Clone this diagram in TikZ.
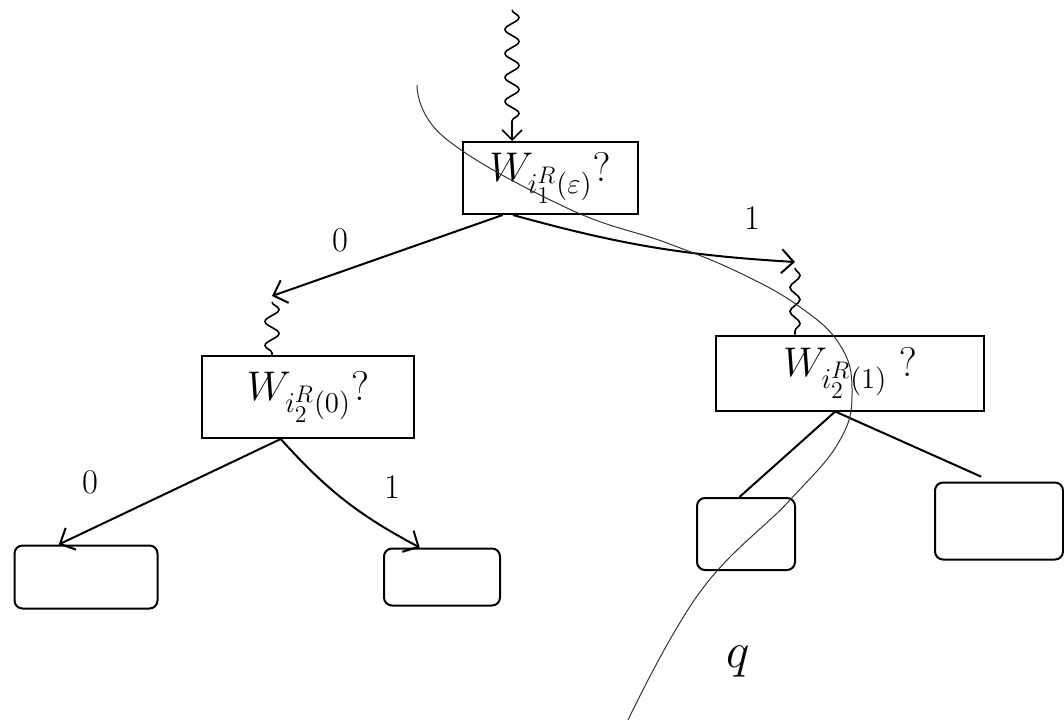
\documentclass[tikz,border=0pt]{standalone}
\usepackage{amssymb}
\usepackage{amsmath}
\usepackage{tikz}
\usetikzlibrary{arrows.meta, decorations.pathmorphing}

\begin{document}
\begin{tikzpicture}[x=0.5pt, y=-0.5pt,
    frage/.style={draw, line width=1pt, rectangle, inner xsep=0pt, inner ysep=3pt, font=\huge},
    blatt/.style={draw, line width=1pt, rectangle, rounded corners=4pt},
    kante/.style={line width=1pt, -{Straight Barb[length=6pt, width=12pt]}},
    linie/.style={line width=1pt},
    welle/.style={line width=0.8pt, decorate,
      decoration={snake, amplitude=3.5pt, segment length=12pt}},
    marke/.style={font=\LARGE},
    duenn/.style={line width=0.5pt, black!80}
]
  \useasboundingbox (0,0) rectangle (1064,724);

  % Wurzel
  \node[frage, minimum width=87.5pt, minimum height=36pt] (root) at (550,178)
    {$W_{i_1^R(\varepsilon)}?$};

  % Kinder der Wurzel
  \node[frage, minimum width=106pt, minimum height=41pt] (lb) at (308,397)
    {$W_{i_2^R(0)}?$};
  \node[frage, minimum width=134pt, minimum height=37.5pt] (rb) at (850,373)
    {$W_{i_2^R(1)}\;?$};

  % Blaetter
  \node[blatt, minimum width=71.5pt, minimum height=31.5pt] (ll) at (86,577) {};
  \node[blatt, minimum width=58pt, minimum height=28.5pt] (lr) at (442,577) {};
  \node[blatt, minimum width=49pt, minimum height=36pt] (rl) at (746,534) {};
  \node[blatt, minimum width=64pt, minimum height=38.5pt] (rr) at (999,521) {};

  % Eingang oben
  \coordinate (start) at (512,10);
  \draw[welle, -{Straight Barb[length=5pt, width=10pt]},
    decoration={post length=6pt}] (start) -- (start |- root.north);

  % Kanten von der Wurzel
  \coordinate (lein) at (272,296);
  \coordinate (rein) at (795,262);
  \draw[kante] (root.218) -- (lein);
  \draw[kante] (root.225) to[bend right=6] (rein);
  \draw[welle] ([yshift=-3pt]lein) -- (lein |- lb.north);
  \draw[welle, decoration={amplitude=2.5pt}] ([yshift=-3pt]rein) -- (rein |- rb.north);
  \node[marke] (l0) at (340,240) {$0$};
  \node[marke] (l1) at (752,218) {$1$};

  % Kanten vom linken Kind
  \draw[kante] (lb.237) -- (ll.130);
  \draw[kante] (lb.237) to[bend right=10] (lr.127);
  \node[marke] (ll0) at (90,482) {$0$};
  \node[marke] (ll1) at (392,487) {$1$};

  % Kanten vom rechten Kind
  \draw[linie] (rb.249) -- (rl.100);
  \draw[linie, shorten >=6pt] (rb.249) -- (rr.100);

  % duenne Kurve
  \draw[duenn] plot[smooth, tension=0.7] coordinates {(417,85) (445,138)
    (567,208) (667,243) (740,273) (800,307) (840,345)
    (852,390) (840,440) (790,500) (700,592) (628,720)};

  \node[font=\Huge] (q) at (738,662) {$q$};

\end{tikzpicture}
\end{document}
